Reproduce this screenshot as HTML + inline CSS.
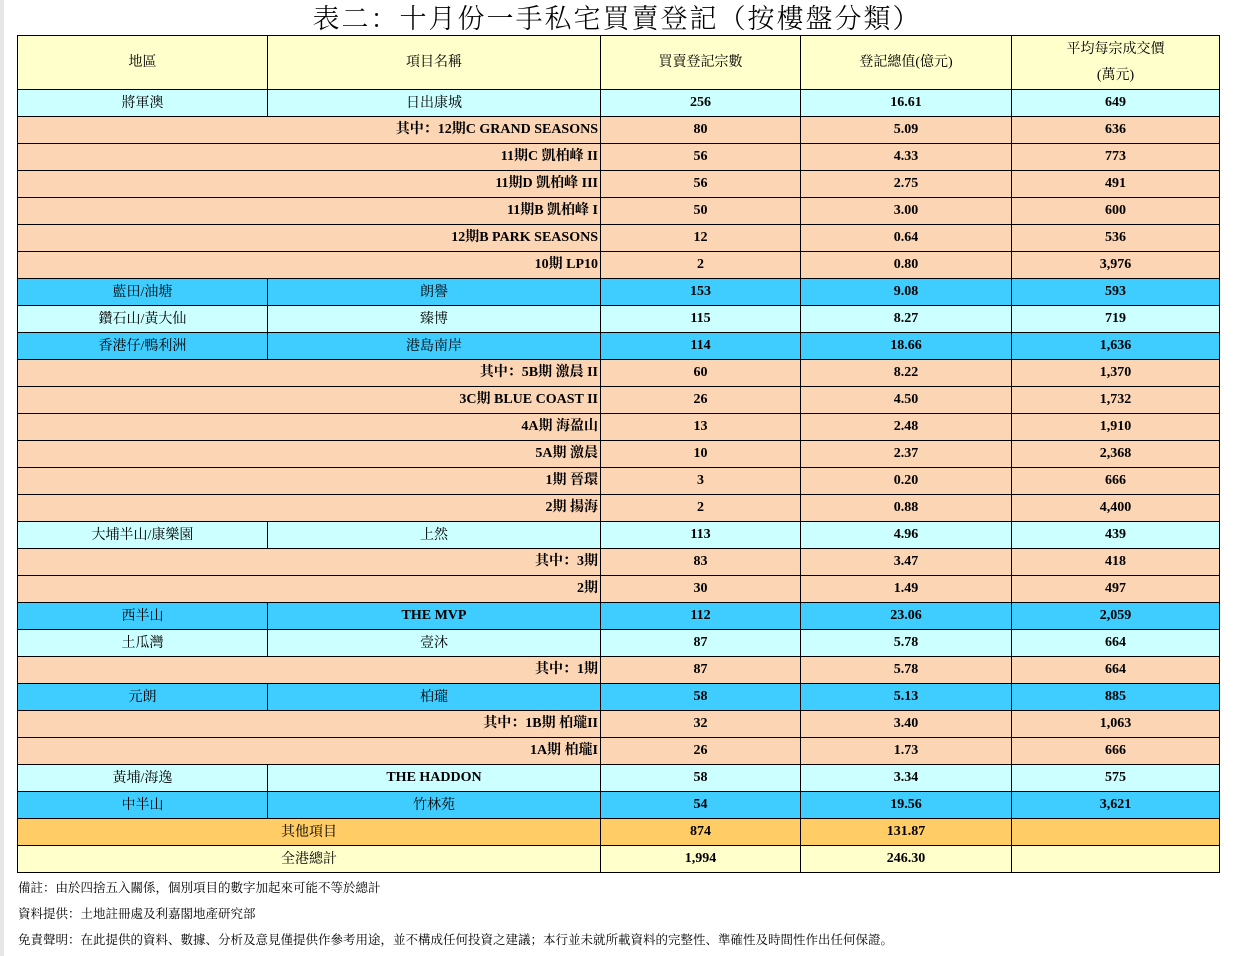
<!DOCTYPE html>
<html><head><meta charset="utf-8"><style>
body{margin:0;background:#fff;width:1234px;height:956px;position:relative;font-family:"Liberation Serif","Noto Serif CJK SC",serif;color:#000;overflow:hidden}
#lb{position:absolute;left:0;top:0;width:4px;height:956px;background:#e6e6e6}
h1{position:absolute;left:0;width:1234px;top:3px;margin:0;text-align:center;font-size:27px;font-weight:300;line-height:32px;letter-spacing:2px}
table{position:absolute;left:17px;top:35px;border-collapse:collapse;table-layout:fixed;width:1202px}
td{border:1px solid #000;height:26px;padding:0;text-align:center;font-size:14px;font-weight:bold;white-space:nowrap;line-height:26px;vertical-align:middle;box-sizing:border-box}
tr{height:27px}
tr.h{height:50px}
tr.h td{height:50px;background:#ffffcc;font-weight:normal;line-height:26px;padding-top:1px}
tr.a td{background:#ccffff}
tr.b td{background:#3fccff}
tr.s td{background:#fcd5b4}
tr.s td.n{text-align:right;padding-right:2px}
tr.o td{background:#ffcc66}
tr.t td{background:#ffffcc}
td.r{font-weight:normal;line-height:24px;padding-top:2px}
.f{position:absolute;left:18px;font-size:12.5px}
</style></head><body>
<div id="lb"></div>
<h1>表二：十月份一手私宅買賣登記（按樓盤分類）</h1>
<table>
<colgroup><col style="width:250px"><col style="width:333px"><col style="width:200px"><col style="width:211px"><col style="width:208px"></colgroup>
<tr class="h"><td>地區</td><td>項目名稱</td><td>買賣登記宗數</td><td>登記總值(億元)</td><td>平均每宗成交價<br>(萬元)</td></tr>
<tr class="a"><td class="r">將軍澳</td><td class="r">日出康城</td><td>256</td><td>16.61</td><td>649</td></tr>
<tr class="s"><td class="n" colspan="2">其中：12期C GRAND SEASONS</td><td>80</td><td>5.09</td><td>636</td></tr>
<tr class="s"><td class="n" colspan="2">11期C 凱柏峰 II</td><td>56</td><td>4.33</td><td>773</td></tr>
<tr class="s"><td class="n" colspan="2">11期D 凱柏峰 III</td><td>56</td><td>2.75</td><td>491</td></tr>
<tr class="s"><td class="n" colspan="2">11期B 凱柏峰 I</td><td>50</td><td>3.00</td><td>600</td></tr>
<tr class="s"><td class="n" colspan="2">12期B PARK SEASONS</td><td>12</td><td>0.64</td><td>536</td></tr>
<tr class="s"><td class="n" colspan="2">10期 LP10</td><td>2</td><td>0.80</td><td>3,976</td></tr>
<tr class="b"><td class="r">藍田/油塘</td><td class="r">朗譽</td><td>153</td><td>9.08</td><td>593</td></tr>
<tr class="a"><td class="r">鑽石山/黃大仙</td><td class="r">臻博</td><td>115</td><td>8.27</td><td>719</td></tr>
<tr class="b"><td class="r">香港仔/鴨利洲</td><td class="r">港島南岸</td><td>114</td><td>18.66</td><td>1,636</td></tr>
<tr class="s"><td class="n" colspan="2">其中：5B期 激晨 II</td><td>60</td><td>8.22</td><td>1,370</td></tr>
<tr class="s"><td class="n" colspan="2">3C期 BLUE COAST II</td><td>26</td><td>4.50</td><td>1,732</td></tr>
<tr class="s"><td class="n" colspan="2">4A期 海盈山</td><td>13</td><td>2.48</td><td>1,910</td></tr>
<tr class="s"><td class="n" colspan="2">5A期 激晨</td><td>10</td><td>2.37</td><td>2,368</td></tr>
<tr class="s"><td class="n" colspan="2">1期 晉環</td><td>3</td><td>0.20</td><td>666</td></tr>
<tr class="s"><td class="n" colspan="2">2期 揚海</td><td>2</td><td>0.88</td><td>4,400</td></tr>
<tr class="a"><td class="r">大埔半山/康樂園</td><td class="r">上然</td><td>113</td><td>4.96</td><td>439</td></tr>
<tr class="s"><td class="n" colspan="2">其中：3期</td><td>83</td><td>3.47</td><td>418</td></tr>
<tr class="s"><td class="n" colspan="2">2期</td><td>30</td><td>1.49</td><td>497</td></tr>
<tr class="b"><td class="r">西半山</td><td>THE MVP</td><td>112</td><td>23.06</td><td>2,059</td></tr>
<tr class="a"><td class="r">土瓜灣</td><td class="r">壹沐</td><td>87</td><td>5.78</td><td>664</td></tr>
<tr class="s"><td class="n" colspan="2">其中：1期</td><td>87</td><td>5.78</td><td>664</td></tr>
<tr class="b"><td class="r">元朗</td><td class="r">柏瓏</td><td>58</td><td>5.13</td><td>885</td></tr>
<tr class="s"><td class="n" colspan="2">其中：1B期 柏瓏II</td><td>32</td><td>3.40</td><td>1,063</td></tr>
<tr class="s"><td class="n" colspan="2">1A期 柏瓏I</td><td>26</td><td>1.73</td><td>666</td></tr>
<tr class="a"><td class="r">黃埔/海逸</td><td>THE HADDON</td><td>58</td><td>3.34</td><td>575</td></tr>
<tr class="b"><td class="r">中半山</td><td class="r">竹林苑</td><td>54</td><td>19.56</td><td>3,621</td></tr>
<tr class="o"><td class="r" colspan="2">其他項目</td><td>874</td><td>131.87</td><td></td></tr>
<tr class="t"><td class="r" colspan="2">全港總計</td><td>1,994</td><td>246.30</td><td></td></tr>
</table>
<div class="f" style="top:878px">備註：由於四捨五入關係，個別項目的數字加起來可能不等於總計</div>
<div class="f" style="top:904px">資料提供：土地註冊處及利嘉閣地產研究部</div>
<div class="f" style="top:930px">免責聲明：在此提供的資料、數據、分析及意見僅提供作參考用途，並不構成任何投資之建議；本行並未就所載資料的完整性、準確性及時間性作出任何保證。</div>
</body></html>
